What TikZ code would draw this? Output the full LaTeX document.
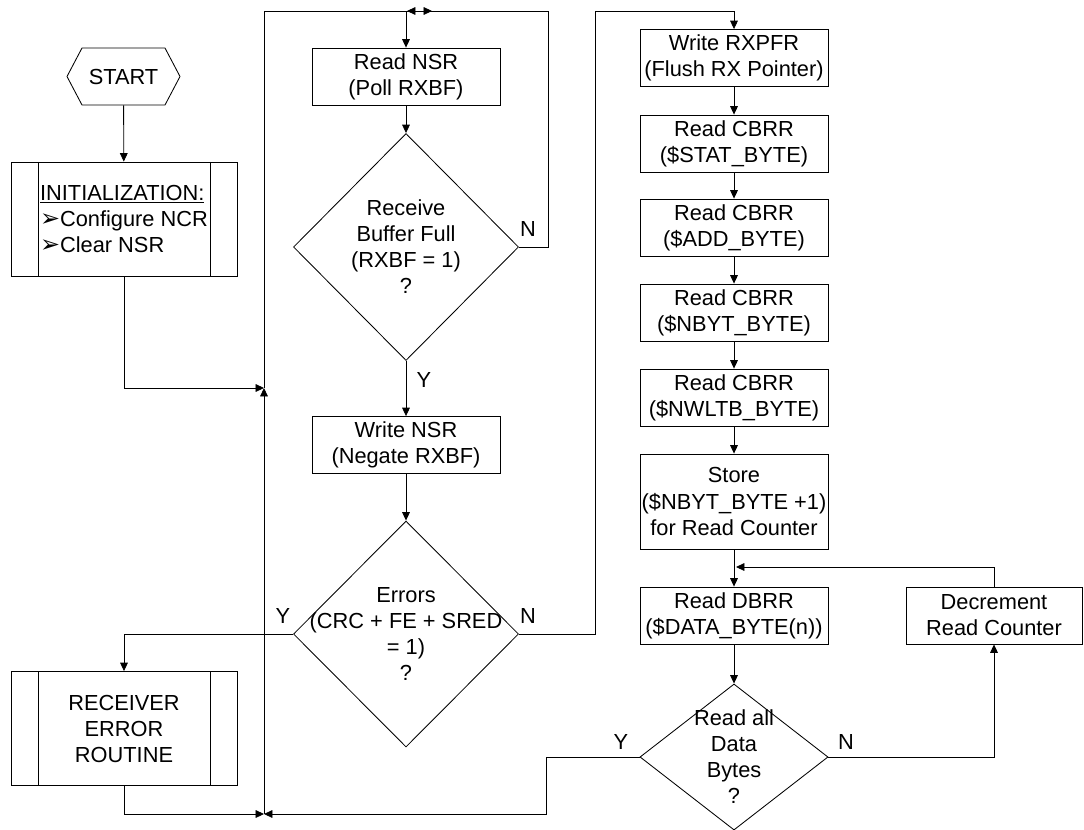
\documentclass[tikz,border=0pt]{standalone}
\usepackage{fontspec}
\setmainfont{Liberation Sans}
\newfontfamily\dingfont{DejaVu Sans}
\usetikzlibrary{shapes.geometric,arrows.meta}
\newcommand{\pnt}{{\dingfont\fontsize{17}{18.5}\selectfont ➢}}
\begin{document}
\begin{tikzpicture}[x=0.025cm,y=-0.025cm,line width=0.6pt,
  >={Triangle[length=6pt,width=5.5pt]},
  font=\fontsize{15.5}{18.5}\selectfont,
  proc/.style={draw,minimum width=4.7cm,minimum height=1.425cm,inner sep=0pt,align=center},
  decide/.style={draw,diamond,inner sep=0pt},
  subproc/.style={draw,minimum width=5.65cm,minimum height=2.85cm,inner sep=0pt,align=center,
    path picture={\draw ([xshift=0.675cm]path picture bounding box.north west) -- ([xshift=0.675cm]path picture bounding box.south west)
      ([xshift=-0.675cm]path picture bounding box.north east) -- ([xshift=-0.675cm]path picture bounding box.south east);}}]
\useasboundingbox (0,0) rectangle (1084,829);
% left column
\draw (67,76.5) -- (82,48) -- (165,48) -- (180,76.5) -- (165,105) -- (82,105) -- cycle;
\node (start) at (123.5,76.5) [minimum width=2.825cm,minimum height=1.425cm,inner sep=0pt] {START};
\node (init) at (124,219) [subproc,align=left] {\underline{INITIALIZATION:}\\\pnt Configure NCR\\\pnt Clear NSR};
\node (receiver) at (124,728.5) [subproc] {RECEIVER\\ERROR\\ROUTINE};
% middle column
\node (readnsr) at (406,76.5) [proc] {Read NSR\\(Poll RXBF)};
\node (d1) at (406,247) [decide,minimum width=5.625cm,minimum height=5.675cm,
  label={[align=center]center:Receive\\Buffer Full\\(RXBF = 1)\\?}] {};
\node (writensr) at (406,445) [proc] {Write NSR\\(Negate RXBF)};
\node (errors) at (406,634) [decide,minimum width=5.625cm,minimum height=5.65cm,
  label={[align=center]center:Errors\\(CRC + FE + SRED\\= 1)\\?}] {};
% right column
\node (rxpfr) at (734,58) [proc] {Write RXPFR\\(Flush RX Pointer)};
\node (stat) at (734,143.5) [proc] {Read CBRR\\(\$STAT\_BYTE)};
\node (add) at (734,227.5) [proc] {Read CBRR\\(\$ADD\_BYTE)};
\node (nbyt) at (734,312.5) [proc] {Read CBRR\\(\$NBYT\_BYTE)};
\node (nwltb) at (734,397.5) [proc] {Read CBRR\\(\$NWLTB\_BYTE)};
\node (store) at (734,501.5) [proc,minimum height=2.375cm] {Store\\(\$NBYT\_BYTE +1)\\for Read Counter};
\node (dbrr) at (734,615.5) [proc] {Read DBRR\\(\$DATA\_BYTE(n))};
\node (d3) at (734,757) [decide,minimum width=4.7cm,minimum height=3.65cm,
  label={[align=center]center:Read all\\Data\\Bytes\\?}] {};
\node (decr) at (994,615.5) [proc,minimum width=4.4cm] {Decrement\\Read Counter};
% Y / N
\draw (528,229) node (n1) {N};
\draw (424,380) node (y1) {Y};
\draw (283,616) node (y2) {Y};
\draw (528,616) node (n2) {N};
\draw (621,742) node (y3) {Y};
\draw (846,742) node (n3) {N};
% junctions
\coordinate (j1) at (264,388);
\coordinate (jb) at (264,814);
\coordinate (jt) at (406,11);
\coordinate (jtl) at (432,11);
\coordinate (jtr) at (407,11);
\coordinate (jr) at (734,11);
\coordinate (jf) at (736,567);
% connectors
\draw[->] (start) -- (init);
\draw[->] (init.south) |- (j1);
\draw[->] (receiver.south) |- (jb);
\draw[->] (d3.west) -- ++(-93,0) |- (jb);
\draw[->] (jb) -- (j1);
\draw[->] (j1) |- (jtl);
\draw[->] (d1.east) -- ++(29,0) |- (jtr);
\draw[->] (jt) -- (readnsr);
\draw[->] (readnsr) -- (d1);
\draw[->] (d1) -- (writensr);
\draw[->] (writensr) -- (errors);
\draw[->] (errors.west) -| (receiver.north);
\draw[->] (errors.east) -- ++(76,0) |- (jr) -- (rxpfr);
\foreach \a/\b in {rxpfr/stat,stat/add,add/nbyt,nbyt/nwltb,nwltb/store,store/dbrr,dbrr/d3}
  \draw[->] (\a) -- (\b);
\draw[->] (decr.north) |- (jf);
\draw[->] (d3.east) -| (decr.south);
\end{tikzpicture}
\end{document}
